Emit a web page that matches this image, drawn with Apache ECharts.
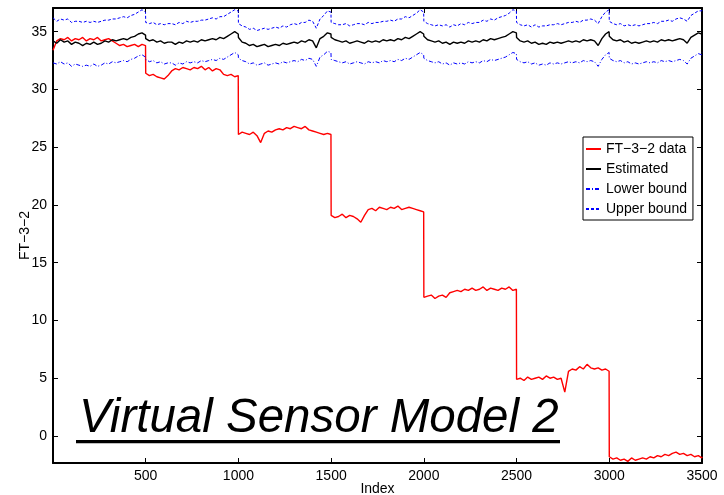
<!DOCTYPE html>
<html>
<head>
<meta charset="utf-8">
<script src="https://cdn.jsdelivr.net/npm/echarts@6/dist/echarts.min.js"></script>
<style>
html,body{margin:0;padding:0;background:#fff;}
#chart{width:724px;height:495px;}
</style>
</head>
<body>
<div id="chart"></div>
<script>
// Sample positions inside each 500-sample block, and block starts
const OFFSETS = [0,20,40,60,80,100,120,140,160,180,200,220,240,260,280,300,320,340,360,380,400,420,440,460,480,499];
const BLOCK_STARTS = [0,500,1000,1500,2000,2500,3000];
const LAST_INDEX = 3500;

const X_TICKS = [500,1000,1500,2000,2500,3000,3500];
const Y_TICKS = [0,5,10,15,20,25,30,35];

const SERIES_NAMES = ['FT\u22123\u22122 data','Estimated','Lower bound','Upper bound'];

// FT-3-2 data (red)
const FT_DATA = [
  33.4,34.2,34.4,34.3,34.5,34.2,34.4,34.3,34.5,34.2,34.4,34.3,34.5,34.2,34.3,34.4,34.2,34.0,33.8,33.9,33.7,33.8,33.9,33.7,33.9,33.8,
  31.4,31.2,31.3,31.1,31.0,30.9,31.2,31.6,31.8,31.7,31.9,31.8,31.7,31.9,31.8,32.0,31.7,31.9,31.6,31.8,31.7,31.3,31.2,31.3,31.1,31.2,
  26.1,26.3,26.2,26.1,26.3,26.0,25.4,26.2,26.4,26.3,26.5,26.6,26.5,26.7,26.6,26.8,26.7,26.6,26.8,26.5,26.4,26.3,26.2,26.1,26.2,26.1,
  19.1,18.9,19.0,19.2,18.9,19.1,19.0,18.8,18.5,19.1,19.6,19.7,19.5,19.8,19.7,19.6,19.8,19.7,19.9,19.6,19.7,19.8,19.7,19.6,19.5,19.4,
  12.0,12.1,12.2,11.9,12.1,12.2,12.0,12.4,12.5,12.6,12.5,12.7,12.6,12.8,12.6,12.7,12.9,12.6,12.8,12.7,12.6,12.8,12.7,12.9,12.6,12.7,
  4.9,5.0,4.8,5.1,4.9,5.0,5.1,4.9,5.2,5.0,5.1,4.9,5.0,3.8,5.6,5.8,5.7,6.0,5.8,6.2,5.9,5.8,5.9,5.7,5.8,5.6,
  -1.8,-2.0,-1.9,-2.1,-2.0,-2.2,-1.9,-2.1,-2.0,-1.9,-2.0,-1.8,-1.9,-1.7,-1.8,-1.6,-1.7,-1.5,-1.4,-1.6,-1.5,-1.7,-1.6,-1.8,-1.7,-1.9,
  -1.8
];

// Estimated (black)
const ESTIMATED = [
  34.2,34.0,34.3,34.1,34.2,33.9,34.1,34.0,33.8,34.0,33.9,34.1,33.9,34.0,34.2,34.1,34.3,34.2,34.3,34.4,34.3,34.5,34.6,34.8,34.9,34.7,
  34.4,34.2,34.3,34.1,34.2,34.0,34.1,34.1,33.9,34.1,34.0,34.2,34.1,34.2,34.1,34.3,34.2,34.3,34.4,34.3,34.5,34.4,34.6,34.8,35.0,34.8,
  34.5,34.1,34.0,33.8,33.9,33.7,33.8,33.9,33.7,33.8,33.9,33.8,34.0,33.9,34.0,34.1,34.0,34.2,34.1,34.3,34.2,33.6,34.4,34.6,34.9,34.8,
  34.5,34.3,34.2,34.1,34.2,34.0,34.1,34.2,34.1,34.0,34.2,34.1,34.2,34.1,34.3,34.2,34.3,34.2,34.4,34.3,34.5,34.4,34.6,34.8,35.0,34.8,
  34.6,34.3,34.2,34.1,34.2,34.0,34.1,33.9,34.1,34.0,34.1,34.0,34.2,34.1,34.2,34.1,34.3,34.2,34.4,34.3,34.4,34.5,34.6,34.8,35.0,34.9,
  34.5,34.2,34.1,34.2,34.0,34.1,33.9,34.0,33.9,34.1,34.0,34.1,34.0,34.1,34.2,34.1,34.2,34.1,34.3,34.2,34.3,34.2,33.8,34.4,34.8,35.0,
  34.6,34.3,34.2,34.3,34.1,34.2,34.0,34.1,34.0,34.1,34.2,34.1,34.2,34.1,34.3,34.2,34.3,34.2,34.3,34.4,34.3,34.0,34.5,34.7,34.9,34.8,
  35.0
];

// Lower bound (blue dash-dot)
const LOWER = [
  32.3,32.2,32.4,32.2,32.3,32.0,32.2,32.1,32.0,32.1,32.0,32.2,32.0,32.1,32.3,32.2,32.4,32.3,32.4,32.5,32.4,32.6,32.7,32.9,33.0,32.8,
  32.6,32.4,32.5,32.3,32.4,32.2,32.3,32.3,32.1,32.3,32.2,32.4,32.3,32.4,32.3,32.5,32.4,32.5,32.6,32.5,32.7,32.6,32.8,33.0,33.2,33.0,
  32.7,32.5,32.4,32.2,32.3,32.1,32.2,32.3,32.1,32.2,32.3,32.2,32.4,32.3,32.4,32.5,32.4,32.6,32.5,32.7,32.6,32.0,32.8,33.0,33.3,33.2,
  32.6,32.5,32.4,32.3,32.4,32.2,32.3,32.4,32.3,32.2,32.4,32.3,32.4,32.3,32.5,32.4,32.5,32.4,32.6,32.5,32.7,32.6,32.8,33.0,33.2,33.0,
  32.7,32.5,32.4,32.3,32.4,32.2,32.3,32.1,32.3,32.2,32.3,32.2,32.4,32.3,32.4,32.3,32.5,32.4,32.6,32.5,32.6,32.7,32.8,33.0,33.2,33.1,
  32.6,32.4,32.3,32.4,32.2,32.3,32.1,32.2,32.1,32.3,32.2,32.3,32.2,32.3,32.4,32.3,32.4,32.3,32.5,32.4,32.5,32.4,32.0,32.6,33.0,33.2,
  32.7,32.5,32.4,32.5,32.3,32.4,32.2,32.3,32.2,32.3,32.4,32.3,32.4,32.3,32.5,32.4,32.5,32.4,32.5,32.6,32.5,32.2,32.7,32.9,33.1,33.0,
  33.2
];

// Upper bound (blue dashed)
const UPPER = [
  36.2,35.9,36.1,36.0,36.1,35.8,35.9,35.9,35.8,35.9,35.8,35.9,35.8,35.9,36.0,36.0,36.1,36.1,36.2,36.3,36.2,36.4,36.5,36.7,36.9,36.7,
  35.8,35.7,35.8,35.6,35.7,35.6,35.7,35.7,35.6,35.8,35.7,35.9,35.8,35.9,35.9,36.0,36.0,36.1,36.2,36.1,36.3,36.3,36.5,36.7,36.9,36.8,
  35.7,35.5,35.4,35.2,35.3,35.1,35.2,35.3,35.2,35.3,35.4,35.3,35.5,35.4,35.6,35.7,35.6,35.8,35.8,36.0,35.9,35.3,36.1,36.4,36.8,36.7,
  35.8,35.7,35.6,35.6,35.7,35.5,35.6,35.7,35.7,35.6,35.8,35.7,35.8,35.8,35.9,35.9,36.0,35.9,36.1,36.1,36.3,36.2,36.4,36.6,36.9,36.7,
  35.9,35.7,35.6,35.5,35.6,35.5,35.6,35.4,35.6,35.5,35.7,35.6,35.8,35.7,35.8,35.8,36.0,35.9,36.1,36.0,36.2,36.3,36.4,36.6,36.9,36.8,
  35.8,35.6,35.5,35.6,35.4,35.6,35.4,35.5,35.5,35.6,35.6,35.7,35.6,35.7,35.8,35.8,35.9,35.8,36.0,36.0,36.1,36.0,35.7,36.3,36.7,36.9,
  35.9,35.7,35.6,35.7,35.5,35.6,35.5,35.6,35.5,35.6,35.7,35.7,35.8,35.7,35.9,35.9,36.0,35.9,36.1,36.2,36.1,35.9,36.4,36.6,36.8,36.8,
  36.9
];

const INDEX = [];
BLOCK_STARTS.forEach(function (b) { OFFSETS.forEach(function (o) { INDEX.push(b + o); }); });
INDEX.push(LAST_INDEX);

function pairs(vals) { return INDEX.map(function (x, i) { return [x, vals[i]]; }); }

const FONT = 'Liberation Sans';
const chart = echarts.init(document.getElementById('chart'), null, {renderer: 'canvas'});

const frameLine = {show: true, onZero: false, lineStyle: {color: '#000', width: 2}};
const tickIn = {show: true, inside: true, length: 5, lineStyle: {color: '#000', width: 1}};
const plain = function (v) { return String(v); };

chart.setOption({
  animation: false,
  backgroundColor: '#fff',
  grid: {left: 53, right: 22, top: 8, bottom: 32, containLabel: false, outerBoundsMode: 'none'},
  legend: {
    orient: 'vertical',
    left: 583, top: 137,
    backgroundColor: '#fff',
    borderColor: '#000', borderWidth: 1,
    padding: [5, 6, 4, 2],
    itemWidth: 15, itemHeight: 14, itemGap: 6,
    itemStyle: {opacity: 0},
    textStyle: {fontFamily: FONT, fontSize: 14, color: '#000'},
    data: SERIES_NAMES
  },
  xAxis: [{
    type: 'value', min: 0, max: LAST_INDEX, position: 'bottom',
    axisLine: frameLine,
    axisTick: Object.assign({customValues: X_TICKS}, tickIn),
    axisLabel: {customValues: X_TICKS, formatter: plain, fontFamily: FONT, fontSize: 14, color: '#000', margin: 6},
    splitLine: {show: false},
    name: 'Index', nameLocation: 'middle', nameGap: 19, nameMoveOverlap: false,
    nameTextStyle: {fontFamily: FONT, fontSize: 14, color: '#000'}
  }, {
    type: 'value', min: 0, max: LAST_INDEX, position: 'top',
    axisLine: frameLine,
    axisTick: Object.assign({customValues: X_TICKS}, tickIn),
    axisLabel: {show: false},
    splitLine: {show: false}
  }],
  yAxis: [{
    type: 'value', min: -2.34, max: 37.05, position: 'left',
    axisLine: frameLine,
    axisTick: Object.assign({customValues: Y_TICKS}, tickIn),
    axisLabel: {customValues: Y_TICKS, formatter: plain, fontFamily: FONT, fontSize: 14, color: '#000', margin: 6},
    splitLine: {show: false},
    name: 'FT\u22123\u22122', nameLocation: 'middle', nameGap: 21, nameRotate: 90, nameMoveOverlap: false,
    nameTextStyle: {fontFamily: FONT, fontSize: 14, color: '#000'}
  }, {
    type: 'value', min: -2.34, max: 37.05, position: 'right',
    axisLine: frameLine,
    axisTick: Object.assign({customValues: Y_TICKS}, tickIn),
    axisLabel: {show: false},
    splitLine: {show: false}
  }],
  series: [{
    name: SERIES_NAMES[0], type: 'line', symbol: 'none', xAxisIndex: 0, yAxisIndex: 0,
    data: pairs(FT_DATA),
    lineStyle: {color: '#ff0000', width: 1.4}, itemStyle: {color: '#ff0000'}
  }, {
    name: SERIES_NAMES[1], type: 'line', symbol: 'none', xAxisIndex: 0, yAxisIndex: 0,
    data: pairs(ESTIMATED),
    lineStyle: {color: '#000000', width: 1.4}, itemStyle: {color: '#000000'}
  }, {
    name: SERIES_NAMES[2], type: 'line', symbol: 'none', xAxisIndex: 0, yAxisIndex: 0,
    data: pairs(LOWER),
    lineStyle: {color: '#0000ff', width: 1, type: [4, 2, 1, 2]}, itemStyle: {color: '#0000ff'}
  }, {
    name: SERIES_NAMES[3], type: 'line', symbol: 'none', xAxisIndex: 0, yAxisIndex: 0,
    data: pairs(UPPER),
    lineStyle: {color: '#0000ff', width: 1, type: [3, 2]}, itemStyle: {color: '#0000ff'}
  }],
  graphic: [{
    type: 'text', left: 79, top: 395, z: 100,
    style: {text: 'Virtual Sensor Model 2', fill: '#000', fontFamily: FONT, fontSize: 47.5, fontStyle: 'italic'}
  }, {
    type: 'rect', z: 100,
    shape: {x: 76, y: 440, width: 484, height: 3.3},
    style: {fill: '#000'}
  }]
});
</script>
</body>
</html>
